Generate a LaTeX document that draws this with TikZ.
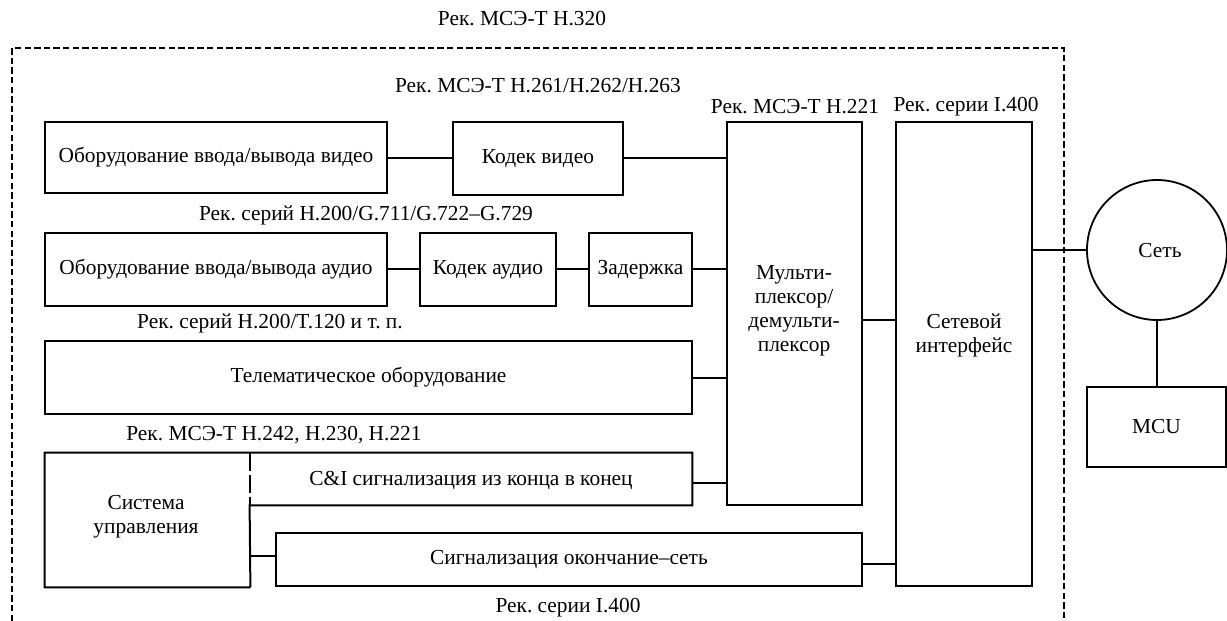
\documentclass[tikz,border=0pt]{standalone}
\usepackage{fontspec}
\setmainfont{Liberation Serif}
\usetikzlibrary{fit}
\frenchspacing
\begin{document}
\begin{tikzpicture}[x=0.5pt,y=-0.5pt,
  every node/.style={font=\fontsize{10.7}{12}\selectfont},
  box/.style={draw,line width=1pt,inner sep=0pt},
  hid/.style={inner sep=0pt},
  lbl/.style={inner sep=0pt,align=center},
  txt/.style={label={[lbl]center:#1}},
  conn/.style={line width=1pt},
  frame/.style={line width=0.9pt,dash pattern=on 3.2pt off 1.6pt}]
\useasboundingbox (0,0) rectangle (1227,621);
% outer frame
\coordinate (fbl) at (12,621);
\coordinate (ftl) at (12,48);
\coordinate (ftr) at (1064,48);
\coordinate (fbr) at (1064,621);
\draw[frame] (fbl) -- (ftl) -- (ftr) -- (fbr);
% labels
\node[lbl] (l320) at (522,19) {Рек. МСЭ-Т H.320};
\node[lbl] (l261) at (538,86) {Рек. МСЭ-Т H.261/H.262/H.263};
\node[lbl] (l221) at (795,107) {Рек. МСЭ-Т H.221};
\node[lbl] (l400a) at (966,107) {Рек. серии I.400};
\node[lbl] (lg7) at (366,215) {Рек. серий H.200/G.711/G.722–G.729};
\node[lbl] (lt120) at (270,323) {Рек. серий H.200/T.120 и т. п.};
\node[lbl] (l242) at (274,435) {Рек. МСЭ-Т H.242, H.230, H.221};
\node[lbl] (l400b) at (568,608) {Рек. серии I.400};
% boxes
\node[box,fit={(45,122) (387,193)},txt={Оборудование ввода/вывода видео}] (vio) {};
\node[box,fit={(453,122) (623,195)},txt={Кодек видео}] (vcod) {};
\node[box,fit={(727,122) (862,505)}] (mux) {};
\node[lbl] (muxt) at (794,311) {Мульти-\\плексор/\\демульти-\\плексор};
\node[box,fit={(896,122) (1032,586)}] (ni) {};
\node[lbl] (nit) at (964,335) {Сетевой\\интерфейс};
\node[box,fit={(45,233) (387,306)},txt={Оборудование ввода/вывода аудио}] (aio) {};
\node[box,fit={(420,233) (556,306)},txt={Кодек аудио}] (acod) {};
\node[box,fit={(589,233) (692,306)},txt={Задержка}] (dly) {};
\node[box,fit={(45,341) (692,414)},txt={Телематическое оборудование}] (tele) {};
\node[hid,fit={(45,453) (250,587)}] (ctrl) {};
\node[lbl] (ctrlt) at (146,517) {Система\\управления};
\node[hid,fit={(250,453) (692,505)}] (ci) {};
\node[lbl] (cit) at (471,480) {C\&I сигнализация из конца в конец};
\node[box,fit={(276,533) (862,586)},txt={Сигнализация окончание–сеть}] (sig) {};
\node[draw,line width=0.9pt,circle,minimum size=70pt,inner sep=0pt] (net) at (1157,250) {};
\node[lbl] (nett) at (1160,251) {Сеть};
\node[box,fit={(1087,387) (1226,467)},txt={MCU}] (mcu) {};
% control system + C&I outline
\draw[conn] (ctrl.south east) -- (ctrl.south west) -- (ctrl.north west) -- (ci.north east) -- (ci.south east) -- (ci.south west) -- (ctrl.south east);
\draw[line width=1pt,dash pattern=on 9pt off 2pt] (ci.north west) -- (ci.south west);
% connectors
\draw[conn] (vio.east |- 0,158) -- (vcod.west |- 0,158);
\draw[conn] (vcod.east |- 0,158) -- (mux.west |- 0,158);
\draw[conn] (aio.east |- 0,269) -- (acod.west |- 0,269);
\draw[conn] (acod.east |- 0,269) -- (dly.west |- 0,269);
\draw[conn] (dly.east |- 0,269) -- (mux.west |- 0,269);
\draw[conn] (tele.east |- 0,378) -- (mux.west |- 0,378);
\draw[conn] (ci.south east |- 0,483) -- (mux.west |- 0,483);
\draw[conn] (mux.east |- 0,320) -- (ni.west |- 0,320);
\draw[conn] (ctrl.east |- 0,556) -- (sig.west |- 0,556);
\draw[conn] (sig.east |- 0,564) -- (ni.west |- 0,564);
\draw[conn] (ni.east |- net.west) -- (net.west);
\draw[conn] (net.south) -- (mcu.north -| net.south);
\end{tikzpicture}
\end{document}
